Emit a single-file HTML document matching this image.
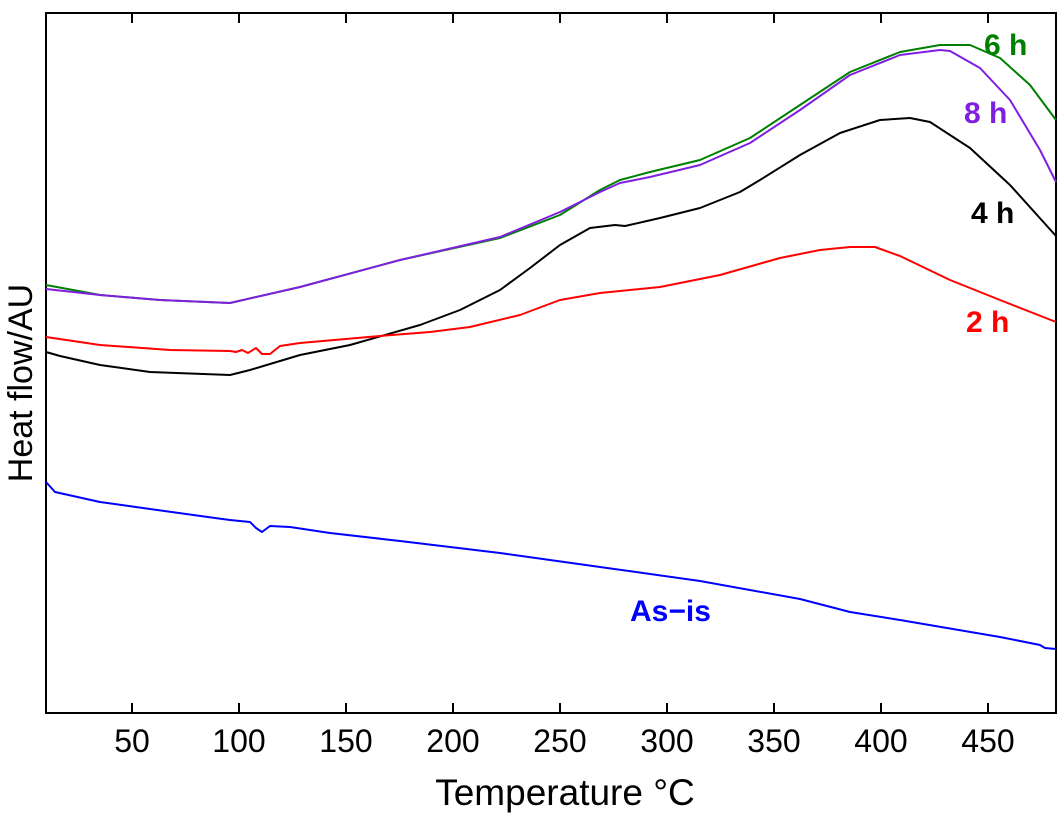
<!DOCTYPE html>
<html><head><style>body{margin:0;background:#fff}svg{display:block}</style></head><body>
<svg width="1064" height="819" xmlns="http://www.w3.org/2000/svg" font-family="Liberation Sans, Arial, sans-serif">
<rect x="46" y="13" width="1010" height="700" fill="none" stroke="#000" stroke-width="2"/>
<g stroke="#000" stroke-width="2">
<path d="M132,713v-10M239,713v-10M346,713v-10M453,713v-10M560,713v-10M667,713v-10M774,713v-10M881,713v-10M988,713v-10"/>
<path d="M132,13v10M239,13v10M346,13v10M453,13v10M560,13v10M667,13v10M774,13v10M881,13v10M988,13v10"/>
</g>
<g font-size="32" text-anchor="middle" fill="#000">
<text x="132" y="752">50</text><text x="239" y="752">100</text><text x="346" y="752">150</text><text x="453" y="752">200</text><text x="560" y="752">250</text><text x="667" y="752">300</text><text x="774" y="752">350</text><text x="881" y="752">400</text><text x="988" y="752">450</text>
</g>
<text x="565" y="805" font-size="37" text-anchor="middle">Temperature °C</text>
<text transform="translate(32,383) rotate(-90)" font-size="34" text-anchor="middle">Heat flow/AU</text>
<g fill="none" stroke-width="2" stroke-linejoin="round">
<polyline stroke="#008000" points="46,285 100,295 160,300 230,303 300,287 400,260 500,238 560,215 600,190 620,180 650,172 700,160 750,138 800,105 850,72 900,52 940,45 970,45 1000,58 1030,85 1056,120"/>
<polyline stroke="#7f1fdf" points="46,289 100,295 160,300 230,303 300,287 400,260 500,237 560,212 600,192 620,183 650,177 700,165 750,143 800,110 850,75 900,55 940,50 950,51 980,68 1010,100 1040,150 1056,182"/>
<polyline stroke="#000" points="46,352 60,356 100,365 150,372 230,375 250,370 300,355 350,345 420,325 460,310 500,290 530,268 560,245 590,228 615,225 625,226 660,218 700,208 740,192 760,180 800,155 840,133 880,120 910,118 930,122 970,148 1010,185 1056,236"/>
<polyline stroke="#f00" points="46,337 100,345 170,350 230,351 236,352 242,350 248,353 256,348 262,354 270,354 280,346 300,343 380,336 430,332 470,327 520,315 560,300 600,293 660,287 720,275 780,258 820,250 850,247 875,247 900,256 950,280 1000,300 1056,322"/>
<polyline stroke="#00f" points="46,482 55,492 100,502 150,509 215,518 230,520 250,522 256,528 262,532 270,526 290,527 330,533 400,541 500,553 600,567 700,581 800,599 850,612 900,620 1000,637 1040,645 1045,648 1056,649"/>
</g>
<g font-size="30" font-weight="bold">
<text x="984" y="55" fill="#008000">6 h</text>
<text x="964" y="123" fill="#7f1fdf">8 h</text>
<text x="971" y="223" fill="#000">4 h</text>
<text x="966" y="332" fill="#f00">2 h</text>
<text x="630" y="621" fill="#00f">As−is</text>
</g>
</svg>
</body></html>
